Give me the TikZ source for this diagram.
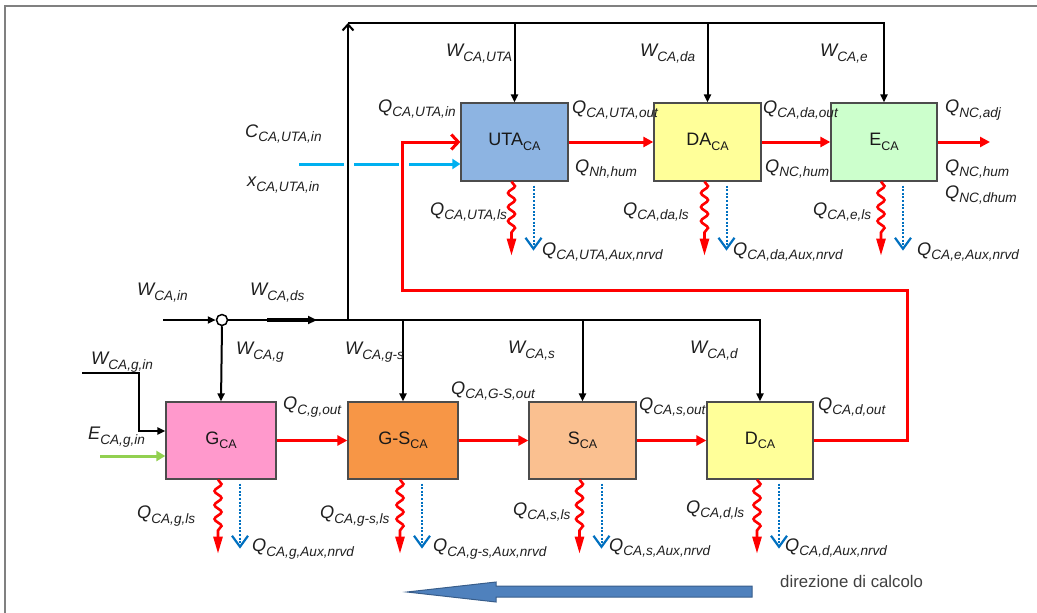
\documentclass[tikz,border=0pt]{standalone}
\usepackage{fontspec}
\setmainfont{Liberation Sans}
\usetikzlibrary{arrows.meta,decorations.pathmorphing,calc}
\newcommand\lb[2]{\fontsize{18.2}{18}\selectfont\itshape #1\raisebox{-4.8pt}{\fontsize{13.6}{14}\selectfont #2}}
\newcommand\bx[2]{\fontsize{18}{18}\selectfont #1\raisebox{-4.5pt}{\fontsize{12.5}{13}\selectfont #2}}
\definecolor{cUTA}{HTML}{8DB4E2}
\definecolor{cYel}{HTML}{FFFF99}
\definecolor{cE}{HTML}{CCFFCC}
\definecolor{cG}{HTML}{FF99CC}
\definecolor{cGS}{HTML}{F79646}
\definecolor{cS}{HTML}{FAC090}
\definecolor{cAux}{HTML}{0070C0}
\definecolor{cCyan}{HTML}{00B0F0}
\definecolor{cGreen}{HTML}{92D050}
\definecolor{cBig}{HTML}{4F81BD}
\definecolor{cBigD}{HTML}{385D8A}
\tikzset{
  lab/.style={anchor=west, inner sep=0pt, text=black!88},
  blk/.style={draw=black, line width=2pt},
  blkarr/.style={blk, -{Triangle[length=8pt,width=7pt]}},
  redarr/.style={draw=red, line width=3pt, -{Triangle[length=10pt,width=10pt]}},
  box/.style={draw=black!70, line width=1.3pt, minimum width=107pt, minimum height=77pt, inner sep=0pt, text=black!90},
  loss/.style={draw=red, line width=2.6pt, decorate, decoration={snake, amplitude=3.5pt, segment length=14pt, post length=18pt}, -{Triangle[length=17pt,width=9pt]}},
  aux/.style={draw=cAux, line width=2pt, dash pattern=on 2pt off 1.6pt, -{Straight Barb[length=11pt,width=16pt,line width=2.2pt]}}
}
\begin{document}
\begin{tikzpicture}[x=1pt,y=-1pt]
\useasboundingbox (0,0) rectangle (1037,613);
\draw[black!50, line width=1.5pt] (5,613) -- (5,6) -- (1037,6);

% boxes
\node[box, fill=cUTA, minimum width=107pt, minimum height=78pt] (UTA) at (514.5,142) {\bx{UTA}{CA}};
\node[box, fill=cYel, minimum width=107pt, minimum height=78pt] (DA) at (707.5,142) {\bx{DA}{CA}};
\node[box, fill=cE, minimum width=106pt, minimum height=78pt] (E) at (884,142) {\bx{E}{CA}};
\node[box, fill=cG, minimum width=110pt] (G) at (221,440.5) {\bx{G}{CA}};
\node[box, fill=cGS, minimum width=110pt] (GS) at (403,440.5) {\bx{G-S}{CA}};
\node[box, fill=cS] (S) at (582.5,440.5) {\bx{S}{CA}};
\node[box, fill=cYel, minimum width=106pt] (D) at (760,440.5) {\bx{D}{CA}};

% junction and coordinates
\node[circle, draw, line width=1.5pt, fill=white, minimum size=11pt, inner sep=0pt] (j) at (222,320) {};
\coordinate (in0) at (163,320);
\coordinate (up0) at (348,320);
\coordinate (up1) at (348,23);
\coordinate (ds0) at (267,320);
\coordinate (ds1) at (317,320);
\coordinate (gin) at (82,373);
\coordinate (gin2) at (139,431);
\coordinate (ein) at (100,456);
\coordinate (xin) at (299,164);
\coordinate (fb1) at (907,290);
\coordinate (fb2) at (402,142);
\coordinate (qout) at (990,142);

% black supply network
\draw[blkarr] (in0) -- (j.west);
\draw[blkarr] (j.east) -| (D.north);
\draw[blkarr] (j.south) -- (G.north);
\draw[blkarr] (GS.north |- j) -- (GS.north);
\draw[blkarr] (S.north |- j) -- (S.north);
\draw[blk, -{Straight Barb[length=6pt,width=11pt]}] (up0) -- (up1);
\draw[blkarr] (up1) -| (E.north);
\draw[blkarr] (UTA.north |- up1) -- (UTA.north);
\draw[blkarr] (DA.north |- up1) -- (DA.north);
\draw[line width=3.5pt, -{Triangle[length=9pt,width=8pt]}] (ds0) -- (ds1);
\draw[blkarr] (gin) -| (gin2) -- (G.west |- gin2);
\draw[draw=cGreen, line width=3pt, -{Triangle[length=9pt,width=10pt]}] (ein) -- (G.west |- ein);

% red heat flow
\draw[redarr] (G.east) -- (GS.west);
\draw[redarr] (GS.east) -- (S.west);
\draw[redarr] (S.east) -- (D.west);
\draw[draw=red, line width=3pt, -{Straight Barb[length=7pt,width=15pt]}] (D.east) -| (fb1) -| (fb2) -- (UTA.west);
\draw[redarr] (UTA.east) -- (DA.west);
\draw[redarr] (DA.east) -- (E.west);
\draw[redarr] (E.east) -- (qout);

% cyan dashed input
\draw[draw=cCyan, line width=3pt, dash pattern=on 45pt off 10pt, -{Triangle[length=8pt,width=10pt]}] (xin) -- (UTA.west |- xin);

% losses
\foreach \b in {UTA,DA,E,G,GS,S,D}{
  \draw[loss] ([xshift=-3pt]\b.south) -- ($([xshift=-3pt]\b.south)+(0,74)$);
  \draw[aux] ($([xshift=19pt]\b.south)+(0,4)$) -- ($([xshift=19pt]\b.south)+(0,69)$);
}

% big direction arrow
\draw[fill=cBig, draw=cBigD, line width=1pt] (407,592) -- (496,582) -- (496,586) -- (752,586) -- (752,597) -- (496,597) -- (496,602) -- cycle;
\node[anchor=west, inner sep=0pt, text=black!75] (dir) at (780,581) {\fontsize{16.8}{17}\selectfont direzione di calcolo};

% labels
\node[lab] (l1) at (446,54) {\lb{W}{CA,UTA}};
\node[lab] (l2) at (640,54) {\lb{W}{CA,da}};
\node[lab] (l3) at (820,54) {\lb{W}{CA,e}};
\node[lab] (l4) at (378,109) {\lb{Q}{CA,UTA,in}};
\node[lab] (l5) at (245,134) {\lb{C}{CA,UTA,in}};
\node[lab] (l6) at (247,185) {\lb{x}{CA,UTA,in}};
\node[lab] (l7) at (572,110) {\lb{Q}{CA,UTA,out}};
\node[lab] (l8) at (575,169) {\lb{Q}{Nh,hum}};
\node[lab] (l9) at (763,110) {\lb{Q}{CA,da,out}};
\node[lab] (l10) at (765,169) {\lb{Q}{NC,hum}};
\node[lab] (l11) at (945,110) {\lb{Q}{NC,adj}};
\node[lab] (l12) at (945,169) {\lb{Q}{NC,hum}};
\node[lab] (l13) at (945,195) {\lb{Q}{NC,dhum}};
\node[lab] (l14) at (430,212) {\lb{Q}{CA,UTA,ls}};
\node[lab] (l15) at (542,252) {\lb{Q}{CA,UTA,Aux,nrvd}};
\node[lab] (l16) at (623,212) {\lb{Q}{CA,da,ls}};
\node[lab] (l17) at (733,252) {\lb{Q}{CA,da,Aux,nrvd}};
\node[lab] (l18) at (813,212) {\lb{Q}{CA,e,ls}};
\node[lab] (l19) at (917,252) {\lb{Q}{CA,e,Aux,nrvd}};
\node[lab] (l20) at (137,293) {\lb{W}{CA,in}};
\node[lab] (l21) at (250,293) {\lb{W}{CA,ds}};
\node[lab] (l22) at (236,352) {\lb{W}{CA,g}};
\node[lab] (l23) at (91,362) {\lb{W}{CA,g,in}};
\node[lab] (l24) at (345,352) {\lb{W}{CA,g-s}};
\node[lab] (l25) at (508,351) {\lb{W}{CA,s}};
\node[lab] (l26) at (690,351) {\lb{W}{CA,d}};
\node[lab] (l27) at (283,407) {\lb{Q}{C,g,out}};
\node[lab] (l28) at (451,391) {\lb{Q}{CA,G-S,out}};
\node[lab] (l29) at (639,407) {\lb{Q}{CA,s,out}};
\node[lab] (l30) at (818,407) {\lb{Q}{CA,d,out}};
\node[lab] (l31) at (88,437) {\lb{E}{CA,g,in}};
\node[lab] (l32) at (137,516) {\lb{Q}{CA,g,ls}};
\node[lab] (l33) at (252,549) {\lb{Q}{CA,g,Aux,nrvd}};
\node[lab] (l34) at (320,516) {\lb{Q}{CA,g-s,ls}};
\node[lab] (l35) at (433,549) {\lb{Q}{CA,g-s,Aux,nrvd}};
\node[lab] (l36) at (513,512) {\lb{Q}{CA,s,ls}};
\node[lab] (l37) at (609,548) {\lb{Q}{CA,s,Aux,nrvd}};
\node[lab] (l38) at (686,510) {\lb{Q}{CA,d,ls}};
\node[lab] (l39) at (785,548) {\lb{Q}{CA,d,Aux,nrvd}};
\end{tikzpicture}
\end{document}
